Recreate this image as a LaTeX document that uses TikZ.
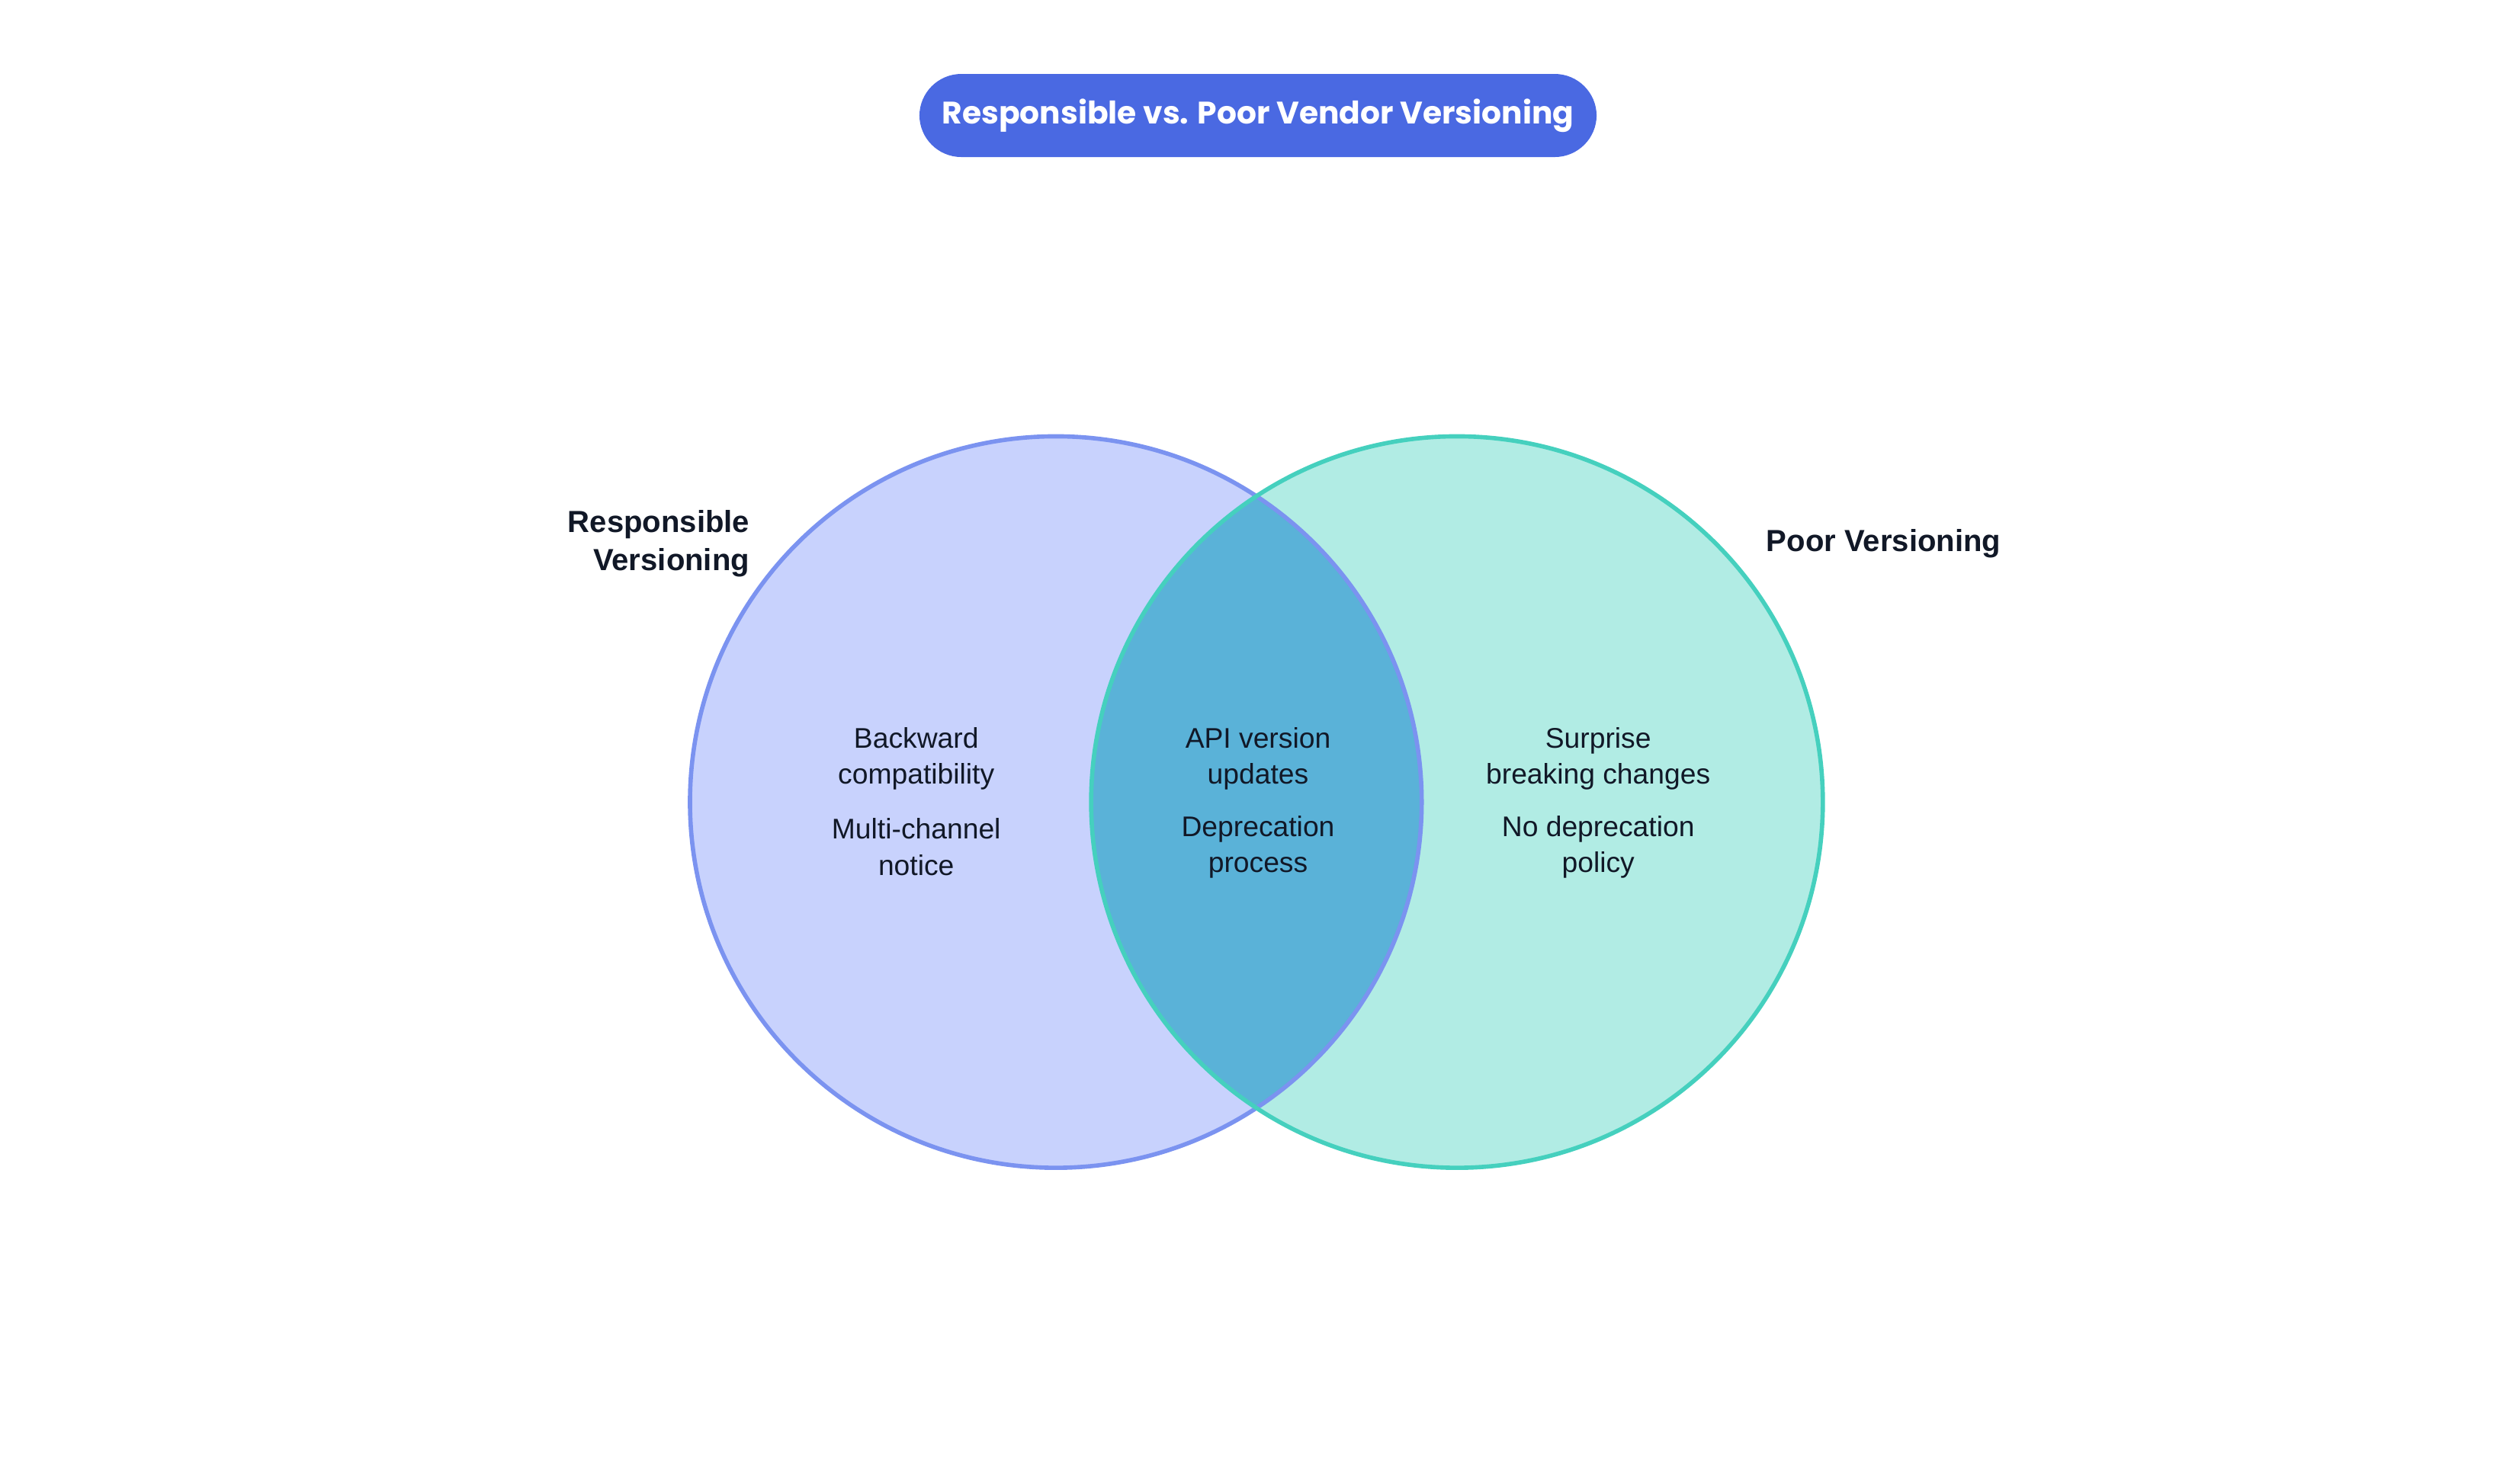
\documentclass[tikz,border=0pt]{standalone}
\usepackage{fontspec}
\setmainfont{Liberation Sans}
\newfontfamily\titlefont{Poppins}
\definecolor{respfill}{HTML}{C8D2FD}
\definecolor{respline}{HTML}{7B93F0}
\definecolor{poorfill}{HTML}{B1ECE4}
\definecolor{poorline}{HTML}{45D0BE}
\definecolor{bothfill}{HTML}{5AB2D8}
\definecolor{titleblue}{HTML}{4A69E2}
\definecolor{inkdark}{HTML}{111827}
\begin{document}
\begin{tikzpicture}[x=0.021046cm,y=-0.021046cm,
  item/.style={align=center,text=inkdark,font=\fontsize{10.6}{13.4}\selectfont},
  setlabel/.style={text=inkdark,font=\fontsize{11.4}{14.2}\selectfont\bfseries}]
\useasboundingbox (0,0) rectangle (1568,925);

\fill [respfill] (658,500) circle (228);
\fill [poorfill] (908,500) circle (228);
\begin{scope}
\clip (658,500) circle (228);
\fill [bothfill] (908,500) circle (228);
\end{scope}
\draw [respline,line width=1.6pt] (658,500) circle (228);
\draw [poorline,line width=1.6pt] (908,500) circle (228);

\node [fill=titleblue,text=white,rounded corners=0.55cm,minimum width=8.88cm,minimum height=1.09cm,
  font=\titlefont\fontsize{11.6}{14}\selectfont\bfseries] (title) at (784,72) {Responsible vs. Poor Vendor Versioning};

\node [setlabel,align=right,anchor=east] (resp) at (473,339) {Responsible\\Versioning};
\node [setlabel,anchor=west] (poor) at (1095,339) {Poor Versioning};

\node [item] (back) at (571,473) {Backward\\compatibility};
\node [item] (multi) at (571,528) {Multi-channel\\notice};
\node [item] (api) at (784,473) {API version\\updates};
\node [item] (depr) at (784,528) {Deprecation\\process};
\node [item] (surp) at (996,473) {Surprise\\breaking changes};
\node [item] (nodep) at (996,528) {No deprecation\\policy};
\end{tikzpicture}
\end{document}
